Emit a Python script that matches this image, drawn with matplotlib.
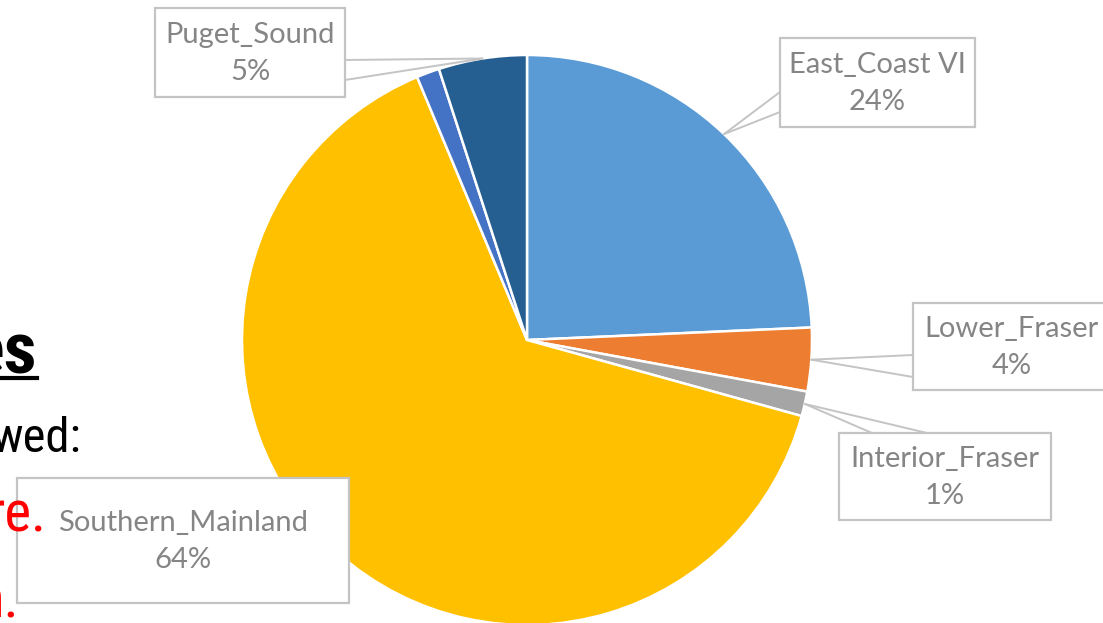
import numpy as np
import matplotlib
matplotlib.use('Agg')
import matplotlib.pyplot as plt
from matplotlib.patches import Rectangle

# chart data
regions = ['East_Coast VI', 'Lower_Fraser', 'Interior_Fraser', 'Southern_Mainland', '', 'Puget_Sound']
shares = [24.3, 3.6, 1.4, 64.4, 1.3, 5.0]
colors = ['#5B9BD5', '#ED7D31', '#A5A5A5', '#FFC000', '#4472C4', '#255E91']

# slide text fragments cut off on the left
slide_texts = ['es', 'wed:', 're.', 'n.']

W, H = 1103, 623
CX, CY, R = 527, 340, 285

def py(y):
    return H - y

fig = plt.figure(figsize=(W / 100, H / 100), dpi=100)
ax = fig.add_axes([0, 0, 1, 1])

wedges, _ = ax.pie(shares, colors=colors, startangle=90, counterclock=False,
                   center=(CX, py(CY)), radius=R,
                   wedgeprops=dict(edgecolor='white', linewidth=1.8))
ax.set_xlim(0, W)
ax.set_ylim(0, H)
ax.set_aspect('equal')
ax.axis('off')

# label boxes: (x0, y0, x1, y1) in pixels, callout base points on the box edge
boxes = {
    'East_Coast VI': ((780, 38, 975, 127), [(780, 92), (780, 112)]),
    'Lower_Fraser': ((913, 303, 1110, 390), [(913, 355), (913, 377)]),
    'Interior_Fraser': ((839, 433, 1051, 520), [(872, 433), (927, 433)]),
    'Southern_Mainland': ((17, 478, 349, 603), []),
    'Puget_Sound': ((155, 8, 345, 97), [(345, 60), (345, 80)]),
}

edge_col = '#C4C4C4'
txt_col = '#858585'
for w, name, val in zip(wedges, regions, shares):
    if not name:
        continue
    (x0, y0, x1, y1), base = boxes[name]
    mid = np.deg2rad((w.theta1 + w.theta2) / 2)
    tip = (CX + R * np.cos(mid), py(CY) + R * np.sin(mid))
    for bx, by in base:
        ax.plot([bx, tip[0]], [py(by), tip[1]], color=edge_col, lw=1.4, zorder=4,
                solid_capstyle='round')
    ax.add_patch(Rectangle((x0, py(y1)), x1 - x0, y1 - y0, facecolor='white',
                           edgecolor=edge_col, lw=1.6, zorder=5))
    ax.text((x0 + x1) / 2, py((y0 + y1) / 2 + 1), f'{name}\n{val:.0f}%', ha='center',
            va='center', fontsize=21, color=txt_col, family='Lato',
            linespacing=1.5, zorder=6)

# slide text fragments
narrow = ['Roboto Condensed', 'Liberation Sans Narrow', 'Liberation Sans']
ax.text(37, py(373), slide_texts[0], ha='right', va='baseline', fontsize=52,
        fontweight='bold', fontstretch='condensed', color='black', family=narrow, zorder=7)
ax.plot([0, 37], [py(378), py(378)], color='black', lw=3, zorder=7)
ax.text(82, py(452), slide_texts[1], ha='right', va='baseline', fontsize=35,
        fontstretch='condensed', color='black', family=narrow, zorder=7)
ax.text(46, py(531), slide_texts[2], ha='right', va='baseline', fontsize=41,
        fontstretch='condensed', color='#FF0000', family=narrow, zorder=7)
ax.text(19, py(618), slide_texts[3], ha='right', va='baseline', fontsize=41,
        fontstretch='condensed', color='#FF0000', family=narrow, zorder=7)

fig.savefig('out.png', dpi=100, facecolor='white')
